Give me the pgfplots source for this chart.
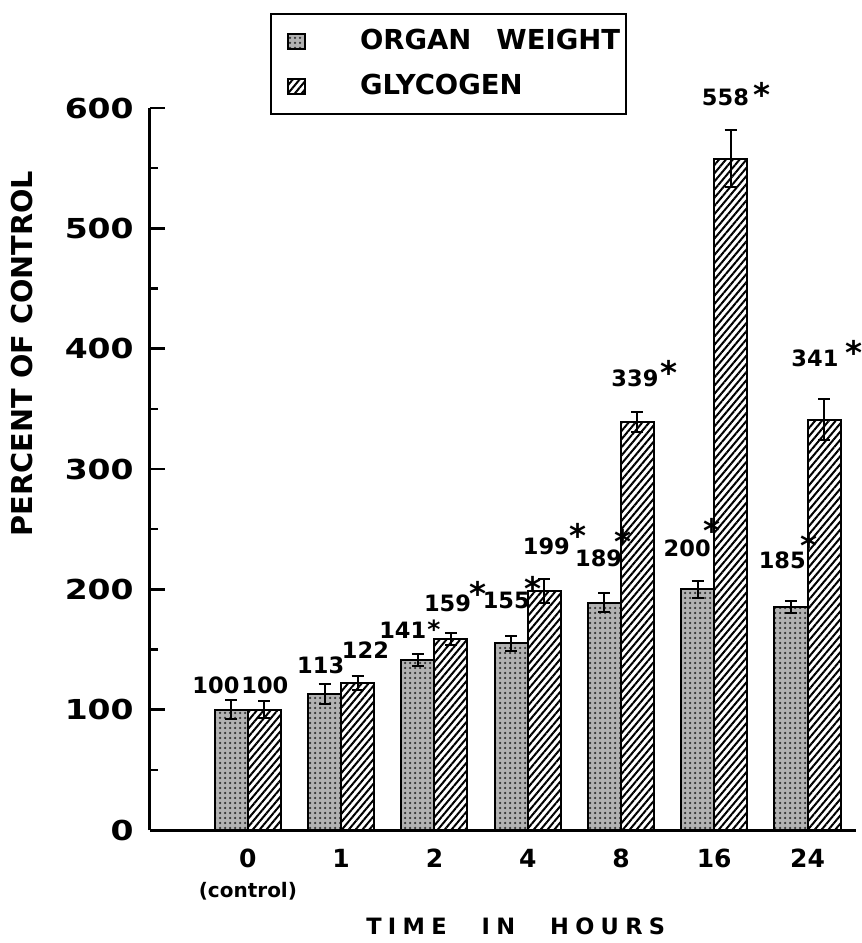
\documentclass[border=0pt]{standalone}
\usepackage{fontspec}
\setmainfont{DejaVu Sans}
\newfontfamily\spaced{DejaVu Sans}[LetterSpace=28]
\newfontfamily\wide{DejaVu Sans}[FakeStretch=1.2]
\usepackage{pgfplots}
\pgfplotsset{compat=1.18}
\usepackage{pgfplotstable}
\usetikzlibrary{patterns.meta}

% group index, percent of control, error
\pgfplotstableread{
x y e
0 100 8
1 113 8
2 141 5
3 155 6
4 189 8
5 200 7
6 185 5
}\organ
\pgfplotstableread{
x y e
0 100 7
1 122 6
2 159 5
3 199 10
4 339 8
5 558 24
6 341 17
}\glyco

\newcommand\vl{\fontsize{9}{10}\selectfont}
\newcommand\st{\fontsize{13}{13}\selectfont}
% value with a significance star: #2 = gap, #3 = raise
\newcommand\vs[3]{#1\rlap{\hspace{#2}\smash{\raisebox{#3}{\st *}}}}

\begin{document}
\bfseries
\begin{tikzpicture}
\begin{axis}[
    scale only axis,
    width=282.4pt, height=288.8pt,
    xmin=-1.05, xmax=6.52, ymin=0, ymax=600,
    axis x line=bottom, axis y line=left,
    axis line style={-, line width=1.2pt},
    clip=false,
    ybar=0pt, bar width=0.354,
    xtick={0,...,6},
    xticklabels={{0\\[1pt]\fontsize{8}{9}\selectfont(control)},1,2,4,8,16,24},
    xticklabel style={align=center, yshift=-4pt, font=\fontsize{10}{11}\selectfont},
    x tick style={draw=none},
    ytick={0,100,...,600}, minor y tick num=1,
    tick align=inside,
    major tick length=6pt, minor tick length=3.2pt,
    y tick style={line width=1pt, black},
    yticklabel style={font=\wide\fontsize{11}{12}\selectfont, xshift=-3pt},
    /pgf/number format/assume math mode=true,
    ylabel={PERCENT OF CONTROL},
    ylabel style={at={(rel axis cs:-0.181,0.66)}, anchor=center, font=\fontsize{11.5}{12}\selectfont},
    xlabel={\spaced TIME\hspace{14pt}IN\hspace{14pt}HOURS},
    xlabel style={at={(rel axis cs:0.518,-0.133)}, anchor=center, font=\fontsize{9}{10}\selectfont},
    legend style={at={(rel axis cs:0.170,1.1316)}, anchor=north west,
        draw=black, line width=0.8pt, inner xsep=6.4pt, inner ysep=4.2pt,
        row sep=4.2pt, font=\fontsize{11}{12}\selectfont,
        /tikz/every odd column/.append style={column sep=19.6pt}},
    legend cell align=left,
    legend image code/.code={\draw[#1, line width=0.8pt] (0pt,-3pt) rectangle (6.8pt,3pt);},
    error bars/error bar style={line width=0.8pt, black},
    error bars/error mark options={rotate=90, mark size=2.4pt, line width=0.8pt, black},
]
\addplot[draw=black, line width=0.8pt, fill=black!30,
    postaction={pattern={Dots[distance=2pt, radius=0.5pt]}, pattern color=black!80},
    error bars/.cd, y dir=both, y explicit]
    table[x=x, y=y, y error=e] {\organ};
\addlegendentry{\makebox[98pt][l]{ORGAN\hspace{10pt}WEIGHT}}
\addplot[draw=black, line width=0.8pt, fill=white,
    pattern={Lines[angle=50, distance=2.1pt, line width=0.8pt]},
    error bars/.cd, y dir=both, y explicit]
    table[x=x, y=y, y error=e] {\glyco};
\addlegendentry{\makebox[98pt][l]{GLYCOGEN}}

\coordinate (O) at (rel axis cs:0,0);

% value labels written above the bars
\begin{scope}[every node/.style={inner sep=0pt, font=\vl}]
\node at (axis cs:-0.343,120.5) {100};
\node at (axis cs:0.182,120.5) {100};
\node at (axis cs:0.78,137) {113};
\node at (axis cs:1.26,149.6) {122};
\node at (axis cs:1.66,166) {141\rlap{\hspace{0.5pt}\smash{\fontsize{10}{10}\selectfont *}}};
\node at (axis cs:2.14,188.6) {\vs{159}{-0.5pt}{2.2pt}};
\node at (axis cs:2.77,191) {\vs{155}{-2pt}{3pt}};
\node at (axis cs:3.20,236) {\vs{199}{0pt}{2.6pt}};
\node at (axis cs:3.76,226) {\vs{189}{-3pt}{5pt}};
\node at (axis cs:4.15,375.6) {\vs{339}{1pt}{0.8pt}};
\node at (axis cs:4.71,234) {\vs{200}{-3pt}{5.5pt}};
\node at (axis cs:5.12,609) {\vs{558}{2pt}{-0.5pt}};
\node at (axis cs:5.73,224) {\vs{185}{-2pt}{4.4pt}};
\node at (axis cs:6.08,392) {\vs{341}{3pt}{0.8pt}};
\end{scope}
\end{axis}
\path (O) ++(-60pt,-45.2pt) rectangle ++(344.8pt,377.2pt);
\end{tikzpicture}
\end{document}
